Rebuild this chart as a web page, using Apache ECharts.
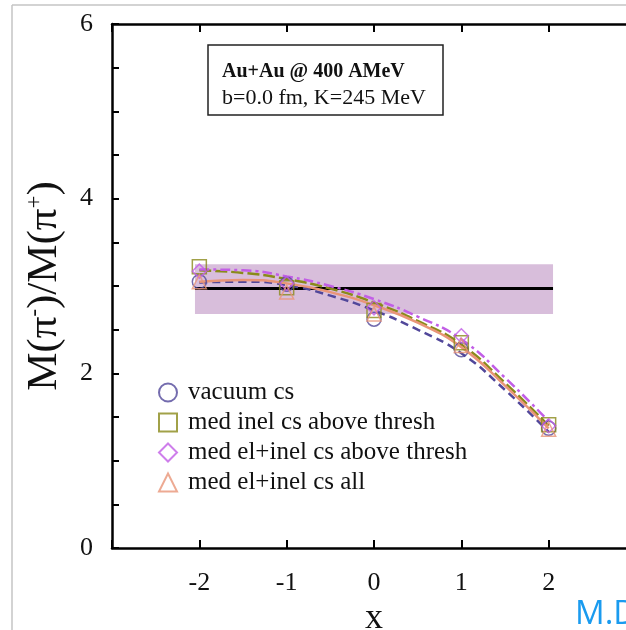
<!DOCTYPE html>
<html>
<head>
<meta charset="utf-8">
<script src="https://cdn.jsdelivr.net/npm/echarts@6/dist/echarts.min.js"></script>
<style>
  html, body { margin: 0; padding: 0; background: #fff; }
  #chart { width: 626px; height: 630px; }
</style>
</head>
<body>
<div id="chart"></div>
<script>
// simulated points at each x
const xValues = [-2, -1, 0, 1, 2]
const vacuumCs = [3.05, 3.02, 2.62, 2.27, 1.37]
const medInel = [3.22, 2.98, 2.72, 2.35, 1.41]
const medElInel = [3.17, 3.03, 2.75, 2.43, 1.40]
const medElInelAll = [3.05, 2.93, 2.68, 2.32, 1.36]

// fit curves
const fitX = [-2, -1.5, -1, -0.5, 0, 0.5, 1, 1.5, 2]
const vacuumFit = [3.04, 3.05, 3.01, 2.89, 2.72, 2.50, 2.23, 1.81, 1.33]
const medInelFit = [3.18, 3.15, 3.08, 2.97, 2.81, 2.60, 2.33, 1.89, 1.40]
const medElInelFit = [3.19, 3.18, 3.11, 3.00, 2.85, 2.65, 2.39, 1.95, 1.45]
const medElInelAllFit = [3.05, 3.07, 3.03, 2.93, 2.78, 2.58, 2.30, 1.86, 1.37]

// experimental band
const bandX = [-2.05, 2.05]
const bandY = [2.68, 3.25]
const bandMean = 2.97

const yTicks = [0, 2, 4, 6]
const xTicks = [-2, -1, 0, 1, 2]

const serif = '"Liberation Serif", "DejaVu Serif", serif'
const colors = {
  vacuum: '#51479a',
  inel: '#8a8a1a',
  elInel: '#c25ee6',
  all: '#e99578'
}

const pairs = (xs, ys) => xs.map((x, i) => [x, ys[i]])

const markers = (name, symbol, color, ys) => ({
  name,
  type: 'scatter',
  symbol,
  symbolSize: 14,
  z: 6,
  itemStyle: { color: 'rgba(0,0,0,0)', borderColor: color, borderWidth: 1.5 },
  data: pairs(xValues, ys)
})

const curve = (color, type, ys) => ({
  type: 'line',
  smooth: true,
  showSymbol: false,
  z: 4,
  lineStyle: { color, width: 2.5, type },
  data: pairs(fitX, ys)
})

const chart = echarts.init(document.getElementById('chart'))
chart.setOption({
  animation: false,
  grid: { left: 112, top: 24, width: 524, height: 524, containLabel: false, outerBoundsMode: 'none' },
  xAxis: [{
    type: 'value',
    min: -3,
    max: 3,
    interval: 1,
    name: 'x',
    nameLocation: 'middle',
    nameGap: 50,
    nameTextStyle: { fontFamily: serif, fontSize: 36, color: '#111' },
    axisLine: { onZero: false, lineStyle: { color: '#000', width: 2.5 } },
    axisTick: { inside: true, length: 8, lineStyle: { color: '#000', width: 2 } },
    axisLabel: {
      margin: 22,
      fontFamily: serif,
      fontSize: 26,
      color: '#111',
      formatter: v => xTicks.includes(v) ? String(v) : ''
    },
    splitLine: { show: false }
  }, {
    type: 'value',
    position: 'top',
    min: -3,
    max: 3,
    interval: 1,
    axisLine: { onZero: false, lineStyle: { color: '#000', width: 2.5 } },
    axisTick: { inside: true, length: 8, lineStyle: { color: '#000', width: 2 } },
    axisLabel: { show: false },
    splitLine: { show: false }
  }],
  yAxis: {
    type: 'value',
    min: 0,
    max: 6,
    interval: 2,
    name: 'M(π{sup|-})/M(π{sup|+})',
    nameLocation: 'middle',
    nameRotate: 90,
    nameGap: 46,
    nameTextStyle: {
      fontFamily: serif,
      fontSize: 43,
      color: '#111',
      rich: {
        sup: { fontFamily: serif, fontSize: 23, color: '#111', verticalAlign: 'top' }
      }
    },
    axisLine: { onZero: false, lineStyle: { color: '#000', width: 2.5 } },
    axisTick: { inside: true, length: 7, lineStyle: { color: '#000', width: 2 } },
    minorTick: { show: true, splitNumber: 4, length: 7, lineStyle: { color: '#000', width: 2 } },
    axisLabel: {
      margin: 19,
      fontFamily: serif,
      fontSize: 26,
      color: '#111',
      formatter: v => yTicks.includes(v) ? String(v) : ''
    },
    splitLine: { show: false }
  },
  legend: {
    orient: 'vertical',
    left: 153,
    top: 375,
    itemWidth: 18,
    itemHeight: 18,
    itemGap: 5,
    textStyle: { fontFamily: serif, fontSize: 25, color: '#111', lineHeight: 25, padding: [0, 0, 0, 6] },
    data: ['vacuum cs', 'med inel cs above thresh', 'med el+inel cs above thresh', 'med el+inel cs all']
  },
  series: [
    {
      type: 'line',
      z: 2,
      showSymbol: false,
      lineStyle: { color: '#000', width: 3 },
      data: pairs(bandX, [bandMean, bandMean]),
      markArea: {
        silent: true,
        itemStyle: { color: '#d8bedb' },
        data: [[{ coord: [bandX[0], bandY[0]] }, { coord: [bandX[1], bandY[1]] }]]
      }
    },
    curve(colors.vacuum, [8, 5], vacuumFit),
    curve(colors.inel, [12, 4], medInelFit),
    curve(colors.elInel, [10, 4, 3, 4], medElInelFit),
    curve(colors.all, 'solid', medElInelAllFit),
    markers('vacuum cs', 'circle', colors.vacuum, vacuumCs),
    markers('med inel cs above thresh', 'rect', colors.inel, medInel),
    markers('med el+inel cs above thresh', 'diamond', colors.elInel, medElInel),
    markers('med el+inel cs all', 'triangle', colors.all, medElInelAll)
  ],
  graphic: [
    { type: 'line', shape: { x1: 12, y1: 5, x2: 626, y2: 5 }, style: { stroke: '#c4c4c4', lineWidth: 1.5 } },
    { type: 'line', shape: { x1: 12, y1: 5, x2: 12, y2: 630 }, style: { stroke: '#c4c4c4', lineWidth: 1.5 } },
    {
      type: 'rect',
      shape: { x: 208, y: 45, width: 235, height: 70 },
      style: { fill: '#fff', stroke: '#222', lineWidth: 1.5 },
      z: 10
    },
    {
      type: 'text', left: 222, top: 62, z: 11,
      style: { text: 'Au+Au @ 400 AMeV', font: 'bold 20px "Liberation Serif", serif', fill: '#111' }
    },
    {
      type: 'text', left: 222, top: 87, z: 11,
      style: { text: 'b=0.0 fm, K=245 MeV', font: '22px "Liberation Serif", serif', fill: '#111' }
    },
    {
      type: 'text', left: 575, top: 598, z: 11,
      style: { text: 'M.D', font: '33px "Open Sans", "Noto Sans", sans-serif', fill: '#1a9bef' }
    }
  ]
})
</script>
</body>
</html>
